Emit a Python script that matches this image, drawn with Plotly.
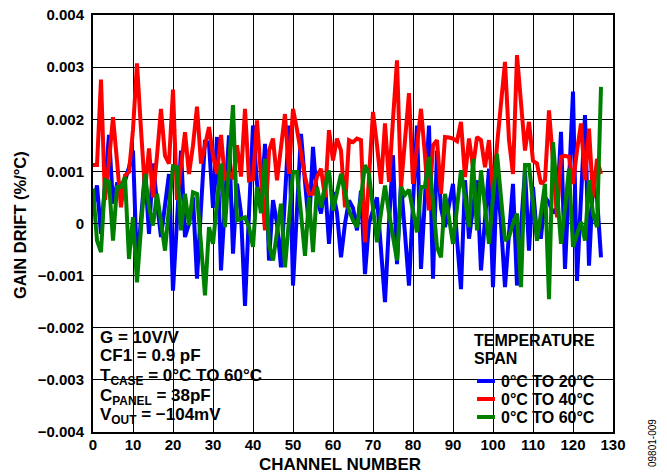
import plotly.graph_objects as go

# ---------------- data (gain drift in units of 0.001 %/°C) ----------------
channels = list(range(128))

drift_0_20 = [
    0.30, 0.73, -0.20, 0.70, 1.70, 0.38, 0.76, 0.76, 0.82, 1.08,
    1.40, -0.84, 0.10, 1.00, -0.20, 1.15, 0.40, -0.26, 0.35, 0.95,
    -1.29, 0.20, 1.40, -0.26, 0.00, 0.50, -1.06, 0.30, 1.60, 1.53,
    0.30, 1.66, -0.90, 0.40, 1.69, -0.58, 0.76, 0.20, -1.58, 0.20,
    1.88, 0.76, 0.30, 1.53, -0.71, 0.45, 0.00, -0.84, 0.50, 1.88,
    -1.19, 0.30, 1.72, 0.80, -0.07, 1.47, 0.50, 0.19, 0.76, -0.39,
    0.60, 0.20, -0.65, 0.00, 0.44, 0.30, -0.13, 0.63, -0.97, 0.00,
    0.25, 0.50, -0.50, -1.51, 0.00, 1.31, -0.78, 0.76, -0.20, -1.19,
    0.40, 1.88, -0.87, 0.50, 1.88, -1.06, 1.40, 0.30, -0.07, 0.35,
    0.76, -0.30, -1.26, 0.83, -0.29, 0.30, 0.83, -0.90, 0.10, 1.05,
    -1.22, 0.95, 0.00, -1.22, -0.20, 0.76, -1.19, 0.00, 1.02, -0.52,
    0.70, -0.26, -0.26, 0.50, 0.40, 0.20, 0.30, 1.76, -0.87, 0.80,
    2.53, -1.10, 0.50, 2.08, -0.81, 0.76, 0.50, -0.65,
]

drift_0_40 = [
    1.12, 1.12, 2.76, 0.45, 1.20, 2.04, 1.20, 0.31, 0.92, 0.99,
    1.80, 3.07, 1.80, 0.63, 1.44, 0.50, 1.30, 2.20, 1.30, 1.15,
    2.57, 0.45, 1.10, 1.75, 0.95, 1.50, 2.24, 1.15, 1.50, 1.85,
    1.30, 0.95, 1.70, 0.83, 1.00, 0.85, 1.50, 0.90, 2.20, 0.83,
    0.85, 1.98, 0.90, -0.13, 1.40, 1.63, 0.83, 1.40, 2.10, 0.95,
    2.20, 1.80, 1.34, 0.90, 0.57, 0.57, 0.90, 1.05, 0.50, 1.79,
    1.21, 1.63, 1.40, 0.31, 1.60, 1.56, 1.63, 1.60, -0.36, 0.90,
    2.14, 1.50, 0.76, 1.92, 0.80, 2.00, 3.13, 0.70, 1.60, 2.50,
    0.76, 1.40, 2.20, 1.30, 0.25, 1.50, 1.60, 0.57, 1.66, 1.65,
    1.63, 1.58, 1.95, 0.89, 1.63, 1.08, 1.66, 1.60, 1.08, 1.60,
    0.57, 1.50, 2.40, 3.10, 1.60, 0.95, 3.23, 2.30, 1.40, 1.95,
    1.20, 1.15, 0.76, 0.83, 2.17, 1.20, 0.12, 1.28, 1.30, 1.28,
    0.76, 1.40, 1.92, 0.83, 1.82, 0.50, 1.24, 0.95,
]

drift_0_60 = [
    0.67, -0.33, -0.55, 0.83, 0.80, -0.33, 0.70, 0.70, 0.89, -0.68,
    0.12, -1.13, -0.10, 0.95, 0.31, -0.04, 0.57, 0.00, -0.52, 0.30,
    1.10, 1.08, -0.13, 0.57, -0.04, 0.60, 0.57, -0.40, -1.38, -0.07,
    -0.39, 0.40, 1.15, -0.07, 1.10, 2.27, 0.06, 0.10, 0.12, -0.07,
    -0.45, 0.70, 0.20, 1.24, -0.40, -0.71, -0.10, 0.38, -0.84, 0.10,
    0.99, 0.99, 0.20, -0.62, 0.50, -0.55, 0.70, 0.31, 0.70, 1.02,
    0.25, 0.60, 0.95, 0.60, 0.25, 0.06, -0.07, 0.50, 1.12, 0.95,
    0.30, -0.36, 0.20, 0.73, 0.20, -0.30, -0.71, 0.70, 0.55, 0.65,
    0.20, -0.17, 0.70, 0.70, 1.28, 0.40, -0.45, -0.65, 0.57, 0.10,
    -0.39, 0.30, 1.02, 0.50, -0.07, 1.24, -0.13, 1.02, 0.30, -0.39,
    0.50, 1.34, 0.50, -0.33, -0.26, 0.00, 0.19, -1.22, 1.12, 1.12,
    0.40, -0.33, 0.20, 0.76, -1.45, 1.56, 0.60, -0.39, 0.30, 1.05,
    -0.45, -0.20, 0.03, -0.33, 0.83, 0.19, -0.07, 2.62,
]

series_names = ["0°C TO 20°C", "0°C TO 40°C", "0°C TO 60°C"]
series_colors = ["#0000ff", "#ff0000", "#008000"]
series_values = [drift_0_20, drift_0_40, drift_0_60]

x_tick_vals = list(range(0, 131, 10))
y_tick_vals = [-0.004, -0.003, -0.002, -0.001, 0, 0.001, 0.002, 0.003, 0.004]
y_tick_text = ["\u22120.004", "\u22120.003", "\u22120.002", "\u22120.001", "0",
               "0.001", "0.002", "0.003", "0.004"]

conditions = [
    "G = 10V/V",
    "CF1 = 0.9 pF",
    "T<sub>CASE</sub> = 0°C TO 60°C",
    "C<sub>PANEL</sub> = 38pF",
    "V<sub>OUT</sub> = \u2212104mV",
]
legend_title = ["TEMPERATURE", "SPAN"]
figure_code = "09801-009"

# ---------------- layout geometry ----------------
W, H = 667, 474
L, R, T, B = 93, 613, 15, 432  # plot area in pixels


def xp(px):
    return (px - L) / (R - L)


def yp(py):
    return (B - py) / (B - T)


FONT = "Liberation Sans, Arial, sans-serif"

fig = go.Figure()
for name, color, vals in zip(series_names, series_colors, series_values):
    fig.add_trace(go.Scatter(
        x=channels,
        y=[v * 1e-3 for v in vals],
        mode="lines",
        name=name,
        line=dict(color=color, width=4),
        showlegend=False,
    ))

shapes = [
    # white panel behind the conditions text
    dict(type="rect", xref="paper", yref="paper", x0=0, x1=xp(279), y0=0, y1=yp(323),
         fillcolor="white", line=dict(width=0), layer="between"),
    # white panel behind the legend
    dict(type="rect", xref="paper", yref="paper", x0=xp(457), x1=1, y0=0, y1=yp(325),
         fillcolor="white", line=dict(width=0), layer="between"),
]

annotations = []
cond_y = [337, 355, 377, 397, 416]
for txt, py in zip(conditions, cond_y):
    annotations.append(dict(
        text=txt, xref="paper", yref="paper", x=xp(98), y=yp(py),
        xanchor="left", yanchor="middle", showarrow=False,
        font=dict(family=FONT, size=17, color="black", weight="bold"),
    ))

for txt, py in zip(legend_title, [340, 358]):
    annotations.append(dict(
        text=txt, xref="paper", yref="paper", x=xp(472), y=yp(py),
        xanchor="left", yanchor="middle", showarrow=False,
        font=dict(family=FONT, size=16, color="black", weight="bold"),
    ))

legend_rows = [381, 399, 417]
for name, color, py in zip(series_names, series_colors, legend_rows):
    shapes.append(dict(type="line", xref="paper", yref="paper",
                       x0=xp(477), x1=xp(495), y0=yp(py), y1=yp(py),
                       line=dict(color=color, width=4), layer="above"))
    annotations.append(dict(
        text=name, xref="paper", yref="paper", x=xp(499), y=yp(py),
        xanchor="left", yanchor="middle", showarrow=False,
        font=dict(family=FONT, size=16, color="black", weight="bold"),
    ))

# axis titles
annotations.append(dict(
    text="CHANNEL NUMBER", xref="paper", yref="paper", x=xp(340), y=yp(464),
    xanchor="center", yanchor="middle", showarrow=False,
    font=dict(family=FONT, size=17, color="black", weight="bold"),
))
annotations.append(dict(
    text="GAIN DRIFT (%/°C)", xref="paper", yref="paper", x=xp(20), y=yp(225),
    xanchor="center", yanchor="middle", showarrow=False, textangle=-90,
    font=dict(family=FONT, size=16.5, color="black", weight="bold"),
))
annotations.append(dict(
    text=figure_code, xref="paper", yref="paper", x=xp(652), y=yp(443),
    xanchor="center", yanchor="middle", showarrow=False, textangle=-90,
    font=dict(family=FONT, size=10, color="black"),
))

axis_common = dict(
    showgrid=True, gridcolor="black", gridwidth=1,
    showline=True, linecolor="black", linewidth=2, mirror=True,
    ticks="inside", ticklen=5, tickwidth=1, tickcolor="black",
    zeroline=False, fixedrange=True, automargin=False,
    tickfont=dict(family=FONT, size=15, color="black", weight="bold"),
)

fig.update_layout(
    width=W, height=H,
    margin=dict(l=L, r=W - R, t=T, b=H - B, pad=0, autoexpand=False),
    paper_bgcolor="white", plot_bgcolor="white",
    showlegend=False,
    shapes=shapes,
    annotations=annotations,
    xaxis=dict(range=[0, 130], tickmode="array", tickvals=x_tick_vals,
               ticklabelstandoff=-2, **axis_common),
    yaxis=dict(range=[-0.004, 0.004], tickmode="array", tickvals=y_tick_vals,
               ticktext=y_tick_text, ticklabelstandoff=4, **axis_common),
)

fig.write_html(
    "out.html",
    config={"displayModeBar": False},
    post_script="document.body.style.margin='0';document.body.style.padding='0';"
                "document.body.style.overflow='hidden';",
)
